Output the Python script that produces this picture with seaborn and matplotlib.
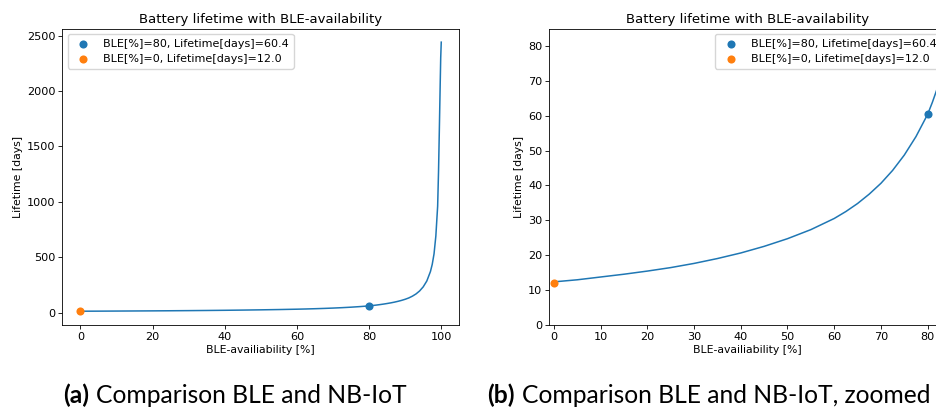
import matplotlib
matplotlib.use("Agg")
import matplotlib.pyplot as plt
from matplotlib.ticker import MultipleLocator
import seaborn as sns

# Battery lifetime curve over BLE availability
ble_pct = [0, 5, 10, 15, 20, 25, 30, 35, 40, 45, 50, 55, 60, 62.5, 65,
           67.5, 70, 72.5, 75, 77.5, 80, 81, 82, 83, 84, 85, 86, 87, 88,
           89, 90, 91, 92, 93, 94, 95, 96, 97, 97.5, 98, 98.5, 99, 99.25,
           99.5, 99.7, 99.85, 100]
lifetime_days = [12.3, 12.9, 13.7, 14.5, 15.4, 16.4, 17.6, 19.0, 20.6, 22.5,
                 24.7, 27.3, 30.5, 32.5, 34.8, 37.5, 40.6, 44.3, 48.7, 54.0,
                 60.4, 63.8, 67.6, 71.9, 76.6, 81.8, 87.5, 94.0, 101.5,
                 110, 120, 132, 148, 168, 195, 232, 285, 370, 435, 530,
                 690, 960, 1280, 1700, 2050, 2300, 2440]

# Highlighted operating points
marked_ble = [80, 0]
marked_life = [60.4, 12.0]
marked_labels = ["BLE[%]=80, Lifetime[days]=60.4",
                 "BLE[%]=0, Lifetime[days]=12.0"]
marked_colors = ["#1f77b4", "#ff7f0e"]

title_text = "Battery lifetime with BLE-availability"
xlabel_text = "BLE-availiability [%]"
ylabel_text = "Lifetime [days]"
caption_tags = ["(a)", "(b)"]
caption_texts = ["Comparison BLE and NB-IoT",
                 "Comparison BLE and NB-IoT, zoomed in"]

W, H = 937, 412
plt.rcParams.update({
    "font.family": ["DejaVu Sans"],
    "axes.linewidth": 0.6,
    "xtick.major.size": 2.6,
    "ytick.major.size": 2.6,
    "xtick.major.width": 0.6,
    "ytick.major.width": 0.6,
    "xtick.labelsize": 8.1,
    "ytick.labelsize": 8.1,
    "axes.labelsize": 7.8,
    "axes.titlesize": 9.5,
    "legend.fontsize": 8.0,
})

fig = plt.figure(figsize=(W / 100, H / 100), dpi=100)
ax_w, ax_h = 397 / W, 296 / H
ax_b = (H - 324.7) / H
ax1 = fig.add_axes([62.3 / W, ax_b, ax_w, ax_h])
ax2 = fig.add_axes([549.3 / W, ax_b, ax_w, ax_h])

for ax, loc in [(ax1, "upper left"), (ax2, "upper right")]:
    sns.lineplot(x=ble_pct, y=lifetime_days, ax=ax, color="#1f77b4",
                 linewidth=1.1, sort=False, estimator=None)
    for bx, by, lab, col in zip(marked_ble, marked_life, marked_labels,
                                marked_colors):
        sns.scatterplot(x=[bx], y=[by], ax=ax, color=col, s=34,
                        linewidth=0, label=lab, zorder=3)
    ax.set_title(title_text, pad=4)
    ax.set_xlabel(xlabel_text, labelpad=2)
    ax.set_ylabel(ylabel_text, labelpad=3)
    ax.tick_params(pad=2.5)
    ax.legend(loc=loc, borderpad=0.4, handletextpad=0.8)

ax2.set_xlim(-1, 84)
ax2.set_ylim(0, 85)
ax2.xaxis.set_major_locator(MultipleLocator(10))
ax2.yaxis.set_major_locator(MultipleLocator(10))

# Sub-figure captions
cap_size = 17.7
cap_y = (H - 403.3) / H
fig.canvas.draw()
renderer = fig.canvas.get_renderer()
for x_px, tag, text in zip([63, 487], caption_tags, caption_texts):
    t = fig.text(x_px / W, cap_y, tag, fontsize=cap_size, fontweight="bold",
                 family=["Lato", "DejaVu Sans"], va="baseline", ha="left")
    bb = t.get_window_extent(renderer=renderer)
    gap = 0.3 * cap_size * 100 / 72
    fig.text((bb.x1 + gap) / W, cap_y, text, fontsize=cap_size,
             family=["Lato", "DejaVu Sans"], va="baseline", ha="left")

fig.savefig("out.png", dpi=100)
